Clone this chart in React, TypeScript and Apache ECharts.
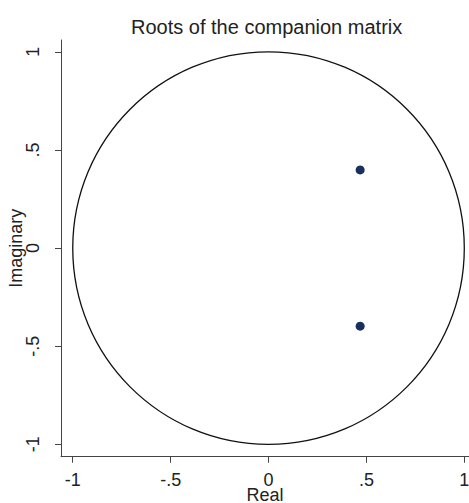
import React, { useEffect, useRef } from "react";
import * as echarts from "echarts";

const titleText = "Roots of the companion matrix";
const xTicks = [-1, -0.5, 0, 0.5, 1];
const yTicks = [-1, -0.5, 0, 0.5, 1];
const rootsReal = [0.468, 0.468];
const rootsImag = [0.398, -0.398];
const unitCircle = [[0, 0, 1]]; // center x, center y, radius
const xName = "Real";
const yName = "Imaginary";

const fmt = (v: number) => (v === 0 ? "0" : String(v).replace("0.", "."));
const FONT = "'Liberation Sans', Arial, sans-serif";

export default function App() {
  const ref = useRef<HTMLDivElement>(null);
  useEffect(() => {
    if (!ref.current) return;
    const chart = echarts.init(ref.current, undefined, { renderer: "svg" });
    const axisCommon = {
      type: "value" as const,
      splitLine: { show: false },
      axisLine: { show: true, onZero: false, lineStyle: { color: "#444", width: 1 } },
      nameLocation: "middle" as const,
      nameMoveOverlap: false,
    };
    chart.setOption({
      animation: false,
      backgroundColor: "#ffffff",
      title: {
        text: titleText,
        left: 126,
        top: 12,
        textStyle: { fontSize: 20, fontWeight: "normal", color: "#222", fontFamily: FONT },
      },
      grid: {
        left: 61,
        right: 0,
        top: 40,
        bottom: 46.3,
        containLabel: false,
        outerBoundsMode: "none",
      },
      xAxis: {
        ...axisCommon,
        min: -1.06,
        max: 1.024,
        name: xName,
        nameGap: 31,
        nameTextStyle: { fontSize: 18, lineHeight: 14, color: "#222", fontFamily: FONT },
        axisTick: { show: true, customValues: xTicks, length: 6, lineStyle: { color: "#444" } },
        axisLabel: {
          customValues: xTicks,
          formatter: fmt,
          margin: 16,
          fontSize: 18,
          lineHeight: 14,
          color: "#222",
          fontFamily: FONT,
        },
      },
      yAxis: {
        ...axisCommon,
        min: -1.063,
        max: 1.06,
        name: yName,
        nameGap: 36,
        nameTextStyle: { fontSize: 18, color: "#222", fontFamily: FONT },
        axisTick: { show: true, customValues: yTicks, length: 6, lineStyle: { color: "#444" } },
        axisLabel: {
          customValues: yTicks,
          formatter: fmt,
          rotate: 90,
          margin: 19,
          fontSize: 18,
          color: "#222",
          fontFamily: FONT,
        },
      },
      series: [
        {
          type: "custom",
          data: unitCircle,
          silent: true,
          renderItem: (_params: any, api: any) => {
            const c = api.coord([api.value(0), api.value(1)]);
            const s = api.size([api.value(2), api.value(2)]);
            return {
              type: "ellipse",
              shape: { cx: c[0], cy: c[1], rx: s[0], ry: s[1] },
              style: { fill: "none", stroke: "#111", lineWidth: 1.3 },
            };
          },
        },
        {
          type: "scatter",
          data: rootsReal.map((r, i) => [r, rootsImag[i]]),
          symbol: "circle",
          symbolSize: 9,
          itemStyle: { color: "#1b2f5c", opacity: 1 },
        },
      ],
    });
    return () => chart.dispose();
  }, []);
  return (
    <div
      ref={ref}
      style={{ position: "absolute", left: 0, top: 0, width: 469, height: 503 }}
    />
  );
}
